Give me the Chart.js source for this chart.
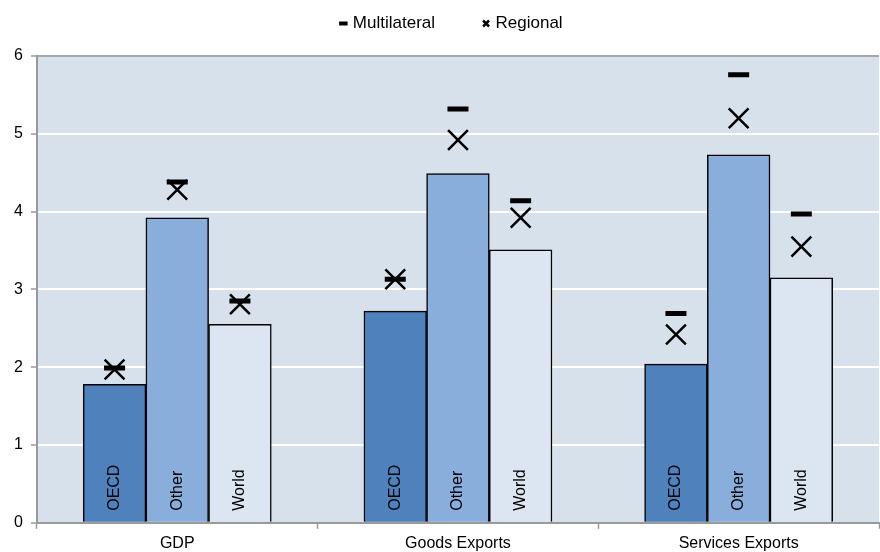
<!DOCTYPE html>
<html>
<head>
<meta charset="utf-8">
<script src="https://cdn.jsdelivr.net/npm/chart.js@4"></script>
<style>
  html, body { margin: 0; padding: 0; background: #fff; }
  #wrap { width: 880px; height: 552px; }
</style>
</head>
<body>
<div id="wrap"><canvas id="chart"></canvas></div>
<script>
const categories = ["GDP", "Goods Exports", "Services Exports"];
const barNames = ["OECD", "Other", "World"];

const oecd = [1.78, 2.72, 2.04];
const other = [3.92, 4.49, 4.73];
const world = [2.55, 3.51, 3.15];

// markers, one value per bar: OECD, Other, World in each group
const multiOecd = [1.99, 3.13, 2.69];
const multiOther = [4.38, 5.32, 5.76];
const multiWorld = [2.85, 4.14, 3.97];

const regOecd = [1.97, 3.13, 2.42];
const regOther = [4.28, 4.92, 5.20];
const regWorld = [2.81, 3.92, 3.55];

const yTicks = [0, 1, 2, 3, 4, 5, 6];

const barPct = 0.67;
const barW = barPct / barNames.length;
const FONT = "'Liberation Sans', Arial, sans-serif";

// x position (in category units) of bar j inside group i
function slotX(i, j) {
  return i + (j - 1) * barW;
}

function barPoints(arr, j) {
  return arr.map((v, i) => ({ x: slotX(i, j), y: v }));
}

function markerPoints(lists) {
  const pts = [];
  categories.forEach((c, i) => {
    lists.forEach((arr, j) => pts.push({ x: slotX(i, j), y: arr[i] }));
  });
  return pts;
}

const plotBg = {
  id: "plotBg",
  beforeDraw(c) {
    const a = c.chartArea;
    c.ctx.save();
    c.ctx.fillStyle = "#d6e1ec";
    c.ctx.fillRect(a.left, a.top, a.right - a.left, a.bottom - a.top);
    c.ctx.restore();
  }
};

const barLabels = {
  id: "barLabels",
  afterDatasetsDraw(c) {
    const ctx = c.ctx;
    ctx.save();
    ctx.font = "16px " + FONT;
    ctx.fillStyle = "#000";
    ctx.textAlign = "left";
    ctx.textBaseline = "middle";
    for (let d = 0; d < 3; d++) {
      c.getDatasetMeta(d).data.forEach(bar => {
        ctx.save();
        ctx.translate(bar.x, c.chartArea.bottom - 12);
        ctx.rotate(-Math.PI / 2);
        ctx.fillText(barNames[d], 0, 0);
        ctx.restore();
      });
    }
    ctx.restore();
  }
};

// fixed legend box height and a tighter centring of its one row
const legendHeight = {
  id: "legendHeight",
  beforeInit(c) {
    const fit = c.legend.fit;
    c.legend.fit = function () {
      fit.call(this);
      this.height = 91;
      if (this.lineWidths && this.lineWidths.length) this.lineWidths[0] -= 20;
    };
  }
};

const barColors = ["#4f81bd", "#8aaedb", "#dce6f2"];
const barData = [oecd, other, world];

chart = new Chart(document.getElementById("chart"), {
  type: "bar",
  data: {
    labels: categories,
    datasets: [
      ...barData.map((d, i) => ({
        type: "bar",
        label: barNames[i],
        xAxisID: "x2",
        yAxisID: "y",
        data: barPoints(d, i),
        backgroundColor: barColors[i],
        borderColor: "#000",
        borderWidth: 1.5,
        grouped: false,
        barPercentage: 1,
        categoryPercentage: 1,
        order: 2
      })),
      {
        type: "line",
        showLine: false,
        label: "Multilateral",
        xAxisID: "x2",
        yAxisID: "y",
        data: markerPoints([multiOecd, multiOther, multiWorld]),
        pointStyle: "line",
        pointRadius: 10.5,
        pointHoverRadius: 10.5,
        pointBorderWidth: 5,
        borderColor: "#000",
        backgroundColor: "#000",
        order: 1
      },
      {
        type: "line",
        showLine: false,
        label: "Regional",
        xAxisID: "x2",
        yAxisID: "y",
        data: markerPoints([regOecd, regOther, regWorld]),
        pointStyle: "crossRot",
        pointRadius: 14,
        pointHoverRadius: 14,
        pointBorderWidth: 2.5,
        borderColor: "#000",
        backgroundColor: "#000",
        order: 0
      }
    ]
  },
  options: {
    responsive: true,
    maintainAspectRatio: false,
    animation: false,
    layout: { autoPadding: false, padding: { left: 6, right: 1, top: -35, bottom: -6 } },
    plugins: {
      tooltip: { enabled: false },
      legend: {
        position: "top",
        labels: {
          filter: item => item.text === "Multilateral" || item.text === "Regional",
          sort: (a, b) => a.datasetIndex - b.datasetIndex,
          usePointStyle: true,
          boxHeight: 6,
          boxWidth: 2,
          padding: 50,
          color: "#000",
          font: { family: FONT, size: 17 },
          generateLabels(c) {
            const items = Chart.defaults.plugins.legend.labels.generateLabels(c);
            items.forEach(it => {
              it.lineWidth = it.text === "Multilateral" ? 4 : 2.5;
              it.strokeStyle = "#000";
              it.fillStyle = "#000";
            });
            return items;
          }
        }
      }
    },
    scales: {
      x: {
        type: "category",
        position: "bottom",
        offset: true,
        grid: {
          offset: true,
          drawOnChartArea: false,
          drawTicks: true,
          tickLength: 6,
          tickColor: "#9a9a9a",
          tickWidth: 1.5
        },
        border: { color: "#9a9a9a", width: 2 },
        ticks: {
          color: "#000",
          padding: 5,
          font: { family: FONT, size: 16 }
        }
      },
      x2: {
        type: "linear",
        position: "bottom",
        display: false,
        offset: false,
        grid: { offset: false },
        min: -0.5,
        max: categories.length - 0.5
      },
      y: {
        min: 0,
        max: 6,
        afterBuildTicks(axis) {
          axis.ticks = yTicks.map(v => ({ value: v }));
        },
        grid: {
          color: ctx => (ctx.tick && ctx.tick.value === 6 ? "#a6a6a6" : "#ffffff"),
          lineWidth: 2,
          tickLength: 6,
          tickColor: "#9a9a9a",
          tickWidth: 1.5
        },
        border: { color: "#9a9a9a", width: 2 },
        ticks: {
          color: "#000",
          padding: 8,
          font: { family: FONT, size: 16 }
        }
      }
    }
  },
  plugins: [plotBg, barLabels, legendHeight]
});
</script>
</body>
</html>
